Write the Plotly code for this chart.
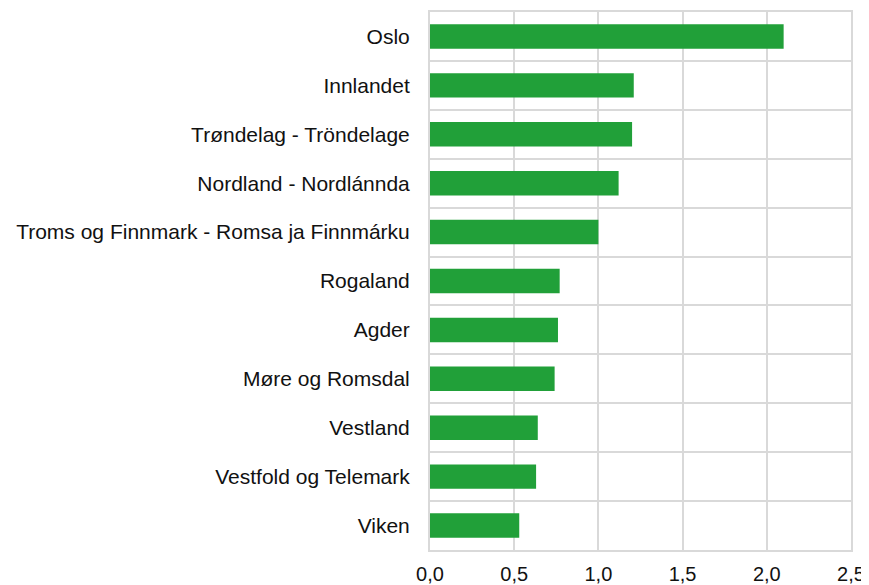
import plotly.graph_objects as go

# counties, listed top to bottom as in the chart
regions = [
    "Oslo",
    "Innlandet",
    "Trøndelag - Tröndelage",
    "Nordland - Nordlánnda",
    "Troms og Finnmark - Romsa ja Finnmárku",
    "Rogaland",
    "Agder",
    "Møre og Romsdal",
    "Vestland",
    "Vestfold og Telemark",
    "Viken",
]
values = [2.10, 1.21, 1.20, 1.12, 1.00, 0.77, 0.76, 0.74, 0.64, 0.63, 0.53]

x_ticks = [0, 0.5, 1.0, 1.5, 2.0, 2.5]
x_tick_text = ["0,0", "0,5", "1,0", "1,5", "2,0", "2,5"]

GRID = "#d9d9d9"
FONT = "Liberation Sans, Arial, sans-serif"

fig = go.Figure(go.Bar(
    x=values,
    y=regions,
    orientation="h",
    marker=dict(color="#21a039", line=dict(width=0)),
    hoverinfo="x+y",
))

# the page body adds an 8px margin, so the figure margins absorb it
fig.update_layout(
    width=869, height=585,
    margin=dict(l=422, r=26, t=4, b=43),
    paper_bgcolor="white",
    plot_bgcolor="white",
    bargap=0.5,
    showlegend=False,
    font=dict(family=FONT, size=20, color="#111111"),
)

fig.update_xaxes(
    range=[0, 2.5],
    tickvals=x_ticks,
    ticktext=x_tick_text,
    showgrid=True, gridcolor=GRID, gridwidth=2,
    zeroline=False,
    showline=True, linecolor=GRID, linewidth=2,
    mirror=True,
    ticks="",
    ticklabelstandoff=5,
    tickfont=dict(size=20),
    automargin=False,
)

fig.update_yaxes(
    autorange="reversed",
    categoryorder="array",
    categoryarray=regions,
    tickson="boundaries",
    showgrid=True, gridcolor=GRID, gridwidth=2,
    showline=True, linecolor=GRID, linewidth=2,
    mirror=True,
    ticks="",
    ticklabelstandoff=14,
    tickfont=dict(size=21),
    automargin=False,
)

fig.write_html("out.html")
